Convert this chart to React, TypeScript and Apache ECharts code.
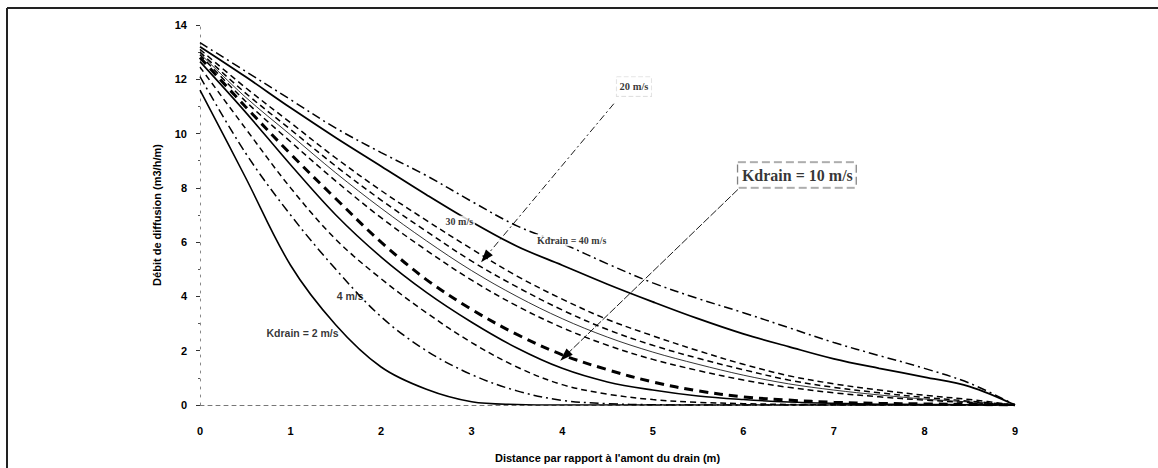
import React, { useEffect, useRef } from "react";
import * as echarts from "echarts";

// distance along the drain (m)
const xs = [0, 0.5, 1, 1.5, 2, 2.5, 3, 3.5, 4, 4.5, 5, 5.5, 6, 6.5, 7, 7.5, 8, 8.5, 9];

// diffusion flow (m3/h/m) for each Kdrain value
const k40 = [13.35, 12.3, 11.25, 10.2, 9.3, 8.45, 7.5, 6.6, 5.95, 5.2, 4.5, 3.92, 3.4, 2.85, 2.3, 1.82, 1.35, 0.8, 0];
const k30 = [13.2, 12.1, 10.95, 9.85, 8.8, 7.75, 6.75, 5.85, 5.15, 4.45, 3.8, 3.18, 2.62, 2.15, 1.7, 1.35, 1.03, 0.68, 0];
const k20 = [13.1, 11.7, 10.4, 9.1, 7.9, 6.8, 5.75, 4.75, 3.9, 3.15, 2.55, 2.0, 1.5, 1.08, 0.78, 0.55, 0.36, 0.2, 0];
const k16 = [13.0, 11.5, 10.15, 8.8, 7.55, 6.4, 5.3, 4.35, 3.5, 2.78, 2.2, 1.72, 1.3, 0.92, 0.65, 0.45, 0.28, 0.14, 0];
const k14 = [12.95, 11.35, 9.95, 8.55, 7.25, 6.05, 4.95, 4.0, 3.18, 2.5, 1.95, 1.5, 1.1, 0.78, 0.55, 0.37, 0.22, 0.11, 0];
const k12 = [12.9, 11.2, 9.7, 8.25, 6.9, 5.7, 4.6, 3.65, 2.85, 2.2, 1.68, 1.27, 0.92, 0.65, 0.45, 0.3, 0.18, 0.09, 0];
const k10 = [12.8, 11.0, 9.25, 7.6, 6.0, 4.62, 3.52, 2.6, 1.85, 1.3, 0.85, 0.52, 0.3, 0.18, 0.1, 0.06, 0.04, 0.02, 0];
const k8 = [12.65, 10.8, 8.85, 7.0, 5.45, 4.15, 3.05, 2.1, 1.35, 0.85, 0.55, 0.33, 0.2, 0.11, 0.06, 0.03, 0.02, 0.01, 0];
const k6 = [12.45, 10.2, 8.0, 6.1, 4.65, 3.4, 2.3, 1.4, 0.75, 0.4, 0.2, 0.1, 0.05, 0.02, 0.01, 0, 0, 0, 0];
const k4 = [12.1, 9.3, 7.0, 5.0, 3.25, 2.0, 1.12, 0.52, 0.17, 0.05, 0.01, 0, 0, 0, 0, 0, 0, 0, 0];
const k2 = [11.6, 8.4, 5.15, 2.95, 1.4, 0.58, 0.12, 0.02, 0, 0, 0, 0, 0, 0, 0, 0, 0, 0, 0];

// axis ticks
const xTicks = { min: 0, max: 9, interval: 1 };
const yTicks = { min: 0, max: 14, interval: 2 };

// annotations (data coordinates)
const labelTexts = ["Kdrain = 2 m/s", "4 m/s", "30 m/s", "Kdrain = 40 m/s", "20 m/s", "Kdrain = 10 m/s"];
const labelAnchors = [
  [1.53, 2.65],
  [1.51, 4.0],
  [2.69, 6.75],
  [3.7, 6.07],
  [4.6, 11.73],
  [5.94, 8.47],
];
const arrowFrom = [
  [4.57, 11.1],
  [5.94, 7.94],
];
const arrowTo = [
  [3.15, 5.44],
  [4.03, 1.8],
];

const DASH = [6, 4];
const DASHDOT = [9, 4, 2, 4];
const THICKDASH = [9, 6];

const curves = [
  { name: "Kdrain = 40 m/s", data: k40, type: DASHDOT, width: 1.5 },
  { name: "Kdrain = 30 m/s", data: k30, type: "solid", width: 1.8 },
  { name: "Kdrain = 20 m/s", data: k20, type: DASH, width: 1.5 },
  { name: "Kdrain = 16 m/s", data: k16, type: DASH, width: 1.5 },
  { name: "Kdrain = 14 m/s", data: k14, type: "solid", width: 0.8 },
  { name: "Kdrain = 12 m/s", data: k12, type: DASH, width: 1.5 },
  { name: "Kdrain = 10 m/s", data: k10, type: THICKDASH, width: 3 },
  { name: "Kdrain = 8 m/s", data: k8, type: "solid", width: 1.6 },
  { name: "Kdrain = 6 m/s", data: k6, type: DASH, width: 1.5 },
  { name: "Kdrain = 4 m/s", data: k4, type: DASHDOT, width: 1.5 },
  { name: "Kdrain = 2 m/s", data: k2, type: "solid", width: 1.6 },
];

const SANS = "'Liberation Sans', Arial, sans-serif";
const SERIF = "'Liberation Serif', 'Times New Roman', serif";

const labelStyles: any[] = [
  { position: "left", fontFamily: SANS, fontWeight: "bold", fontSize: 10.5 },
  { position: "right", fontFamily: SANS, fontWeight: "bold", fontSize: 10.5 },
  { position: "right", fontFamily: SERIF, fontWeight: "bold", fontSize: 10, backgroundColor: "#fff", padding: [1, 2] },
  { position: "right", fontFamily: SERIF, fontWeight: "bold", fontSize: 10, backgroundColor: "#fff", padding: [1, 2] },
  { position: "right", fontFamily: SERIF, fontWeight: "bold", fontSize: 10.5, borderColor: "#ccc", borderWidth: 0.6, borderType: "dashed", padding: [4, 3], backgroundColor: "#fff" },
  { position: "right", fontFamily: SERIF, fontWeight: "bold", fontSize: 16, borderColor: "#555", borderWidth: 1, borderType: "dashed", padding: [5, 3, 4, 4], backgroundColor: "#fff" },
];

export default function App() {
  const ref = useRef<HTMLDivElement>(null);
  useEffect(() => {
    if (!ref.current) return;
    const chart = echarts.init(ref.current, undefined, { renderer: "svg" });
    const lineSeries = curves.map((c) => ({
      name: c.name,
      type: "line",
      data: xs.map((x, i) => [x, c.data[i]]),
      showSymbol: false,
      smooth: 0.35,
      color: "#000",
      lineStyle: { color: "#000", width: c.width, type: c.type as any },
      silent: true,
      z: 2,
    }));
    const annotationSeries = {
      name: "annotations",
      type: "scatter",
      symbolSize: 0,
      z: 10,
      silent: true,
      color: "#000",
      itemStyle: { color: "#000" },
      data: labelTexts.map((t, i) => ({
        value: labelAnchors[i],
        label: {
          show: true,
          formatter: t,
          color: "#000",
          distance: 0,
          ...labelStyles[i],
        },
      })),
      markLine: {
        silent: true,
        symbol: ["none", "triangle"],
        symbolSize: [9, 13],
        label: { show: false },
        itemStyle: { color: "#000" },
        lineStyle: { color: "#000", width: 0.9 },
        data: arrowFrom.map((f, i) => [
          { coord: f, lineStyle: { type: i === 0 ? [7, 3, 2, 3] : [8, 2] } },
          { coord: arrowTo[i] },
        ]),
      },
    };
    chart.setOption({
      animation: false,
      backgroundColor: "#fff",
      color: ["#000"],
      textStyle: { color: "#000" },
      grid: { left: 200, right: 143, top: 25, bottom: 62 },
      xAxis: {
        type: "value",
        ...xTicks,
        name: "Distance par rapport à l'amont du drain (m)",
        nameLocation: "middle",
        nameGap: 47,
        nameTextStyle: { fontFamily: SANS, fontWeight: "bold", fontSize: 11, color: "#000" },
        axisLine: { show: true, lineStyle: { color: "#777", type: [4, 4], width: 1 } },
        axisTick: { show: false },
        splitLine: { show: false },
        axisLabel: { margin: 20, fontFamily: SANS, fontWeight: "bold", fontSize: 11, color: "#000" },
      },
      yAxis: {
        type: "value",
        ...yTicks,
        name: "Débit de diffusion (m3/h/m)",
        nameLocation: "middle",
        nameGap: 38,
        nameRotate: 90,
        nameTextStyle: { fontFamily: SANS, fontWeight: "bold", fontSize: 11, color: "#000" },
        axisLine: { show: true, lineStyle: { color: "#888", type: [2, 6], width: 1 } },
        axisTick: { show: true, length: 4, inside: false, lineStyle: { color: "#333" } },
        minorTick: { show: true, splitNumber: 2, length: 2, lineStyle: { color: "#555" } },
        splitLine: { show: false },
        axisLabel: { margin: 13, fontFamily: SANS, fontWeight: "bold", fontSize: 11, color: "#000" },
      },
      graphic: [
        { type: "line", shape: { x1: 7, y1: 8, x2: 7, y2: 468 }, style: { stroke: "#222", lineWidth: 2 } },
        { type: "line", shape: { x1: 7, y1: 8, x2: 1158, y2: 8 }, style: { stroke: "#222", lineWidth: 2 } },
      ],
      series: [...lineSeries, annotationSeries],
    });
    return () => chart.dispose();
  }, []);
  return (
    <div
      ref={ref}
      style={{ position: "absolute", left: 0, top: 0, width: 1158, height: 468, background: "#fff" }}
    />
  );
}
